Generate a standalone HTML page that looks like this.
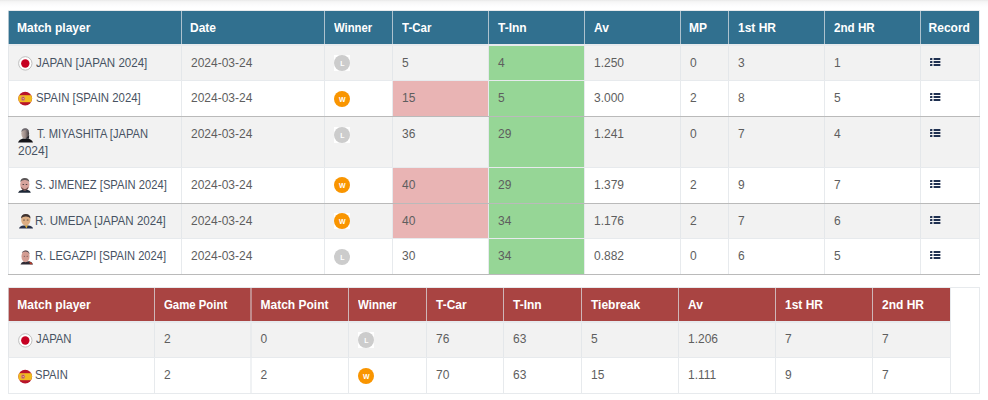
<!DOCTYPE html>
<html><head><meta charset="utf-8"><style>
html,body{margin:0;padding:0;background:#fff;width:988px;height:400px;overflow:hidden;position:relative}
body{font-family:"Liberation Sans",sans-serif;}
.shadow{position:absolute;left:0;top:0;width:988px;height:8px;background:linear-gradient(#e8e8e8,#f3f3f3 15%,#f8f8f8 35%,#fcfcfd 65%,#fff)}
.r{position:absolute}
.t,.tn,.th{position:absolute;font-size:12px;line-height:14px;white-space:nowrap;color:#5e5e5e}
.tn{color:#475262}
.th{color:#fff;font-weight:bold}
.ic{position:absolute;display:block}
.bg,.bw{position:absolute;width:16px;height:16px;background:#fff}
.bc{width:16px;height:16px;border-radius:50%;color:#fff;font-weight:bold;font-size:7px;line-height:18px;text-align:center}
</style></head><body>
<div class="shadow"></div>
<div class="r" style="left:8px;top:11px;width:971px;height:33px;background:#31708f;"></div>
<div class="r" style="left:8px;top:46px;width:971px;height:34px;background:#f2f2f2;"></div>
<div class="r" style="left:8px;top:81px;width:971px;height:35px;background:#ffffff;"></div>
<div class="r" style="left:8px;top:117px;width:971px;height:50px;background:#f2f2f2;"></div>
<div class="r" style="left:8px;top:168px;width:971px;height:35px;background:#ffffff;"></div>
<div class="r" style="left:8px;top:204px;width:971px;height:34px;background:#f2f2f2;"></div>
<div class="r" style="left:8px;top:239px;width:971px;height:35px;background:#ffffff;"></div>
<div class="r" style="left:489px;top:46px;width:95px;height:34px;background:#96d696;"></div>
<div class="r" style="left:393px;top:81px;width:95px;height:35px;background:#e9b4b4;"></div>
<div class="r" style="left:489px;top:81px;width:95px;height:35px;background:#96d696;"></div>
<div class="r" style="left:489px;top:117px;width:95px;height:50px;background:#96d696;"></div>
<div class="r" style="left:393px;top:168px;width:95px;height:35px;background:#e9b4b4;"></div>
<div class="r" style="left:489px;top:168px;width:95px;height:35px;background:#96d696;"></div>
<div class="r" style="left:393px;top:204px;width:95px;height:34px;background:#e9b4b4;"></div>
<div class="r" style="left:489px;top:204px;width:95px;height:34px;background:#96d696;"></div>
<div class="r" style="left:489px;top:239px;width:95px;height:35px;background:#96d696;"></div>
<div class="r" style="left:8px;top:10px;width:972px;height:1px;background:rgba(222,226,230,0.72);"></div>
<div class="r" style="left:8px;top:44px;width:972px;height:2px;background:rgba(222,226,230,0.72);"></div>
<div class="r" style="left:8px;top:80px;width:972px;height:1px;background:rgba(222,226,230,0.72);"></div>
<div class="r" style="left:8px;top:116px;width:972px;height:1px;background:rgba(160,160,160,0.72);"></div>
<div class="r" style="left:8px;top:167px;width:972px;height:1px;background:rgba(222,226,230,0.72);"></div>
<div class="r" style="left:8px;top:203px;width:972px;height:1px;background:rgba(160,160,160,0.72);"></div>
<div class="r" style="left:8px;top:238px;width:972px;height:1px;background:rgba(222,226,230,0.72);"></div>
<div class="r" style="left:8px;top:274px;width:972px;height:1px;background:rgba(160,160,160,0.72);"></div>
<div class="r" style="left:8px;top:11px;width:1px;height:33px;background:rgba(222,226,230,0.72);"></div>
<div class="r" style="left:8px;top:46px;width:1px;height:34px;background:rgba(222,226,230,0.72);"></div>
<div class="r" style="left:8px;top:81px;width:1px;height:35px;background:rgba(222,226,230,0.72);"></div>
<div class="r" style="left:8px;top:117px;width:1px;height:50px;background:rgba(222,226,230,0.72);"></div>
<div class="r" style="left:8px;top:168px;width:1px;height:35px;background:rgba(222,226,230,0.72);"></div>
<div class="r" style="left:8px;top:204px;width:1px;height:34px;background:rgba(222,226,230,0.72);"></div>
<div class="r" style="left:8px;top:239px;width:1px;height:35px;background:rgba(222,226,230,0.72);"></div>
<div class="r" style="left:181px;top:11px;width:1px;height:33px;background:rgba(222,226,230,0.72);"></div>
<div class="r" style="left:181px;top:46px;width:1px;height:34px;background:rgba(222,226,230,0.72);"></div>
<div class="r" style="left:181px;top:81px;width:1px;height:35px;background:rgba(222,226,230,0.72);"></div>
<div class="r" style="left:181px;top:117px;width:1px;height:50px;background:rgba(222,226,230,0.72);"></div>
<div class="r" style="left:181px;top:168px;width:1px;height:35px;background:rgba(222,226,230,0.72);"></div>
<div class="r" style="left:181px;top:204px;width:1px;height:34px;background:rgba(222,226,230,0.72);"></div>
<div class="r" style="left:181px;top:239px;width:1px;height:35px;background:rgba(222,226,230,0.72);"></div>
<div class="r" style="left:324px;top:11px;width:1px;height:33px;background:rgba(222,226,230,0.72);"></div>
<div class="r" style="left:324px;top:46px;width:1px;height:34px;background:rgba(222,226,230,0.72);"></div>
<div class="r" style="left:324px;top:81px;width:1px;height:35px;background:rgba(222,226,230,0.72);"></div>
<div class="r" style="left:324px;top:117px;width:1px;height:50px;background:rgba(222,226,230,0.72);"></div>
<div class="r" style="left:324px;top:168px;width:1px;height:35px;background:rgba(222,226,230,0.72);"></div>
<div class="r" style="left:324px;top:204px;width:1px;height:34px;background:rgba(222,226,230,0.72);"></div>
<div class="r" style="left:324px;top:239px;width:1px;height:35px;background:rgba(222,226,230,0.72);"></div>
<div class="r" style="left:392px;top:11px;width:1px;height:33px;background:rgba(222,226,230,0.72);"></div>
<div class="r" style="left:392px;top:46px;width:1px;height:34px;background:rgba(222,226,230,0.72);"></div>
<div class="r" style="left:392px;top:81px;width:1px;height:35px;background:rgba(222,226,230,0.72);"></div>
<div class="r" style="left:392px;top:117px;width:1px;height:50px;background:rgba(222,226,230,0.72);"></div>
<div class="r" style="left:392px;top:168px;width:1px;height:35px;background:rgba(222,226,230,0.72);"></div>
<div class="r" style="left:392px;top:204px;width:1px;height:34px;background:rgba(222,226,230,0.72);"></div>
<div class="r" style="left:392px;top:239px;width:1px;height:35px;background:rgba(222,226,230,0.72);"></div>
<div class="r" style="left:488px;top:11px;width:1px;height:33px;background:rgba(222,226,230,0.72);"></div>
<div class="r" style="left:488px;top:46px;width:1px;height:34px;background:rgba(222,226,230,0.72);"></div>
<div class="r" style="left:488px;top:81px;width:1px;height:35px;background:rgba(222,226,230,0.72);"></div>
<div class="r" style="left:488px;top:117px;width:1px;height:50px;background:rgba(222,226,230,0.72);"></div>
<div class="r" style="left:488px;top:168px;width:1px;height:35px;background:rgba(222,226,230,0.72);"></div>
<div class="r" style="left:488px;top:204px;width:1px;height:34px;background:rgba(222,226,230,0.72);"></div>
<div class="r" style="left:488px;top:239px;width:1px;height:35px;background:rgba(222,226,230,0.72);"></div>
<div class="r" style="left:584px;top:11px;width:1px;height:33px;background:rgba(222,226,230,0.72);"></div>
<div class="r" style="left:584px;top:46px;width:1px;height:34px;background:rgba(222,226,230,0.72);"></div>
<div class="r" style="left:584px;top:81px;width:1px;height:35px;background:rgba(222,226,230,0.72);"></div>
<div class="r" style="left:584px;top:117px;width:1px;height:50px;background:rgba(222,226,230,0.72);"></div>
<div class="r" style="left:584px;top:168px;width:1px;height:35px;background:rgba(222,226,230,0.72);"></div>
<div class="r" style="left:584px;top:204px;width:1px;height:34px;background:rgba(222,226,230,0.72);"></div>
<div class="r" style="left:584px;top:239px;width:1px;height:35px;background:rgba(222,226,230,0.72);"></div>
<div class="r" style="left:680px;top:11px;width:1px;height:33px;background:rgba(222,226,230,0.72);"></div>
<div class="r" style="left:680px;top:46px;width:1px;height:34px;background:rgba(222,226,230,0.72);"></div>
<div class="r" style="left:680px;top:81px;width:1px;height:35px;background:rgba(222,226,230,0.72);"></div>
<div class="r" style="left:680px;top:117px;width:1px;height:50px;background:rgba(222,226,230,0.72);"></div>
<div class="r" style="left:680px;top:168px;width:1px;height:35px;background:rgba(222,226,230,0.72);"></div>
<div class="r" style="left:680px;top:204px;width:1px;height:34px;background:rgba(222,226,230,0.72);"></div>
<div class="r" style="left:680px;top:239px;width:1px;height:35px;background:rgba(222,226,230,0.72);"></div>
<div class="r" style="left:728px;top:11px;width:1px;height:33px;background:rgba(222,226,230,0.72);"></div>
<div class="r" style="left:728px;top:46px;width:1px;height:34px;background:rgba(222,226,230,0.72);"></div>
<div class="r" style="left:728px;top:81px;width:1px;height:35px;background:rgba(222,226,230,0.72);"></div>
<div class="r" style="left:728px;top:117px;width:1px;height:50px;background:rgba(222,226,230,0.72);"></div>
<div class="r" style="left:728px;top:168px;width:1px;height:35px;background:rgba(222,226,230,0.72);"></div>
<div class="r" style="left:728px;top:204px;width:1px;height:34px;background:rgba(222,226,230,0.72);"></div>
<div class="r" style="left:728px;top:239px;width:1px;height:35px;background:rgba(222,226,230,0.72);"></div>
<div class="r" style="left:824px;top:11px;width:1px;height:33px;background:rgba(222,226,230,0.72);"></div>
<div class="r" style="left:824px;top:46px;width:1px;height:34px;background:rgba(222,226,230,0.72);"></div>
<div class="r" style="left:824px;top:81px;width:1px;height:35px;background:rgba(222,226,230,0.72);"></div>
<div class="r" style="left:824px;top:117px;width:1px;height:50px;background:rgba(222,226,230,0.72);"></div>
<div class="r" style="left:824px;top:168px;width:1px;height:35px;background:rgba(222,226,230,0.72);"></div>
<div class="r" style="left:824px;top:204px;width:1px;height:34px;background:rgba(222,226,230,0.72);"></div>
<div class="r" style="left:824px;top:239px;width:1px;height:35px;background:rgba(222,226,230,0.72);"></div>
<div class="r" style="left:920px;top:11px;width:1px;height:33px;background:rgba(222,226,230,0.72);"></div>
<div class="r" style="left:920px;top:46px;width:1px;height:34px;background:rgba(222,226,230,0.72);"></div>
<div class="r" style="left:920px;top:81px;width:1px;height:35px;background:rgba(222,226,230,0.72);"></div>
<div class="r" style="left:920px;top:117px;width:1px;height:50px;background:rgba(222,226,230,0.72);"></div>
<div class="r" style="left:920px;top:168px;width:1px;height:35px;background:rgba(222,226,230,0.72);"></div>
<div class="r" style="left:920px;top:204px;width:1px;height:34px;background:rgba(222,226,230,0.72);"></div>
<div class="r" style="left:920px;top:239px;width:1px;height:35px;background:rgba(222,226,230,0.72);"></div>
<div class="r" style="left:979px;top:11px;width:1px;height:33px;background:rgba(222,226,230,0.72);"></div>
<div class="r" style="left:979px;top:46px;width:1px;height:34px;background:rgba(222,226,230,0.72);"></div>
<div class="r" style="left:979px;top:81px;width:1px;height:35px;background:rgba(222,226,230,0.72);"></div>
<div class="r" style="left:979px;top:117px;width:1px;height:50px;background:rgba(222,226,230,0.72);"></div>
<div class="r" style="left:979px;top:168px;width:1px;height:35px;background:rgba(222,226,230,0.72);"></div>
<div class="r" style="left:979px;top:204px;width:1px;height:34px;background:rgba(222,226,230,0.72);"></div>
<div class="r" style="left:979px;top:239px;width:1px;height:35px;background:rgba(222,226,230,0.72);"></div>
<div class="th" style="left:17px;top:20.5px;">Match player</div>
<div class="th" style="left:190px;top:20.5px;">Date</div>
<div class="th" style="left:334px;top:20.5px;transform:scaleX(0.94);transform-origin:0 0;">Winner</div>
<div class="th" style="left:402px;top:20.5px;transform:scaleX(0.96);transform-origin:0 0;">T-Car</div>
<div class="th" style="left:498px;top:20.5px;">T-Inn</div>
<div class="th" style="left:594px;top:20.5px;">Av</div>
<div class="th" style="left:689px;top:20.5px;">MP</div>
<div class="th" style="left:738px;top:20.5px;">1st HR</div>
<div class="th" style="left:834px;top:20.5px;transform:scaleX(0.97);transform-origin:0 0;">2nd HR</div>
<div class="th" style="left:928.6px;top:20.5px;">Record</div>
<svg class="ic" style="left:18px;top:56px" width="15" height="15" viewBox="0 0 15 15"><circle cx="7.3" cy="7.4" r="6.7" fill="#fff" stroke="#b9b9b9" stroke-width="0.9"/><circle cx="7.3" cy="7.5" r="4.2" fill="#c60022"/></svg>
<div class="tn" style="left:36.4px;top:55.5px;transform:scaleX(0.963);transform-origin:0 0;">JAPAN [JAPAN 2024]</div>
<div class="t" style="left:191px;top:55.5px;">2024-03-24</div>
<div class="bg" style="left:334.4px;top:55px;"><div class="bc" style="background:#cccccc">L</div></div>
<div class="t" style="left:402px;top:55.5px;">5</div>
<div class="t" style="left:498px;top:55.5px;">4</div>
<div class="t" style="left:594px;top:55.5px;">1.250</div>
<div class="t" style="left:690px;top:55.5px;">0</div>
<div class="t" style="left:738px;top:55.5px;">3</div>
<div class="t" style="left:834px;top:55.5px;">1</div>
<svg class="ic" style="left:930px;top:58px" width="12" height="10" viewBox="0 0 12 10"><g fill="#1f3050"><rect x="0" y="0" width="2.4" height="2" rx="0.6"/><rect x="0" y="3" width="2.4" height="2" rx="0.6"/><rect x="0" y="6" width="2.4" height="2" rx="0.6"/><rect x="3.6" y="0" width="6.8" height="2" rx="0.6"/><rect x="3.6" y="3" width="6.8" height="2" rx="0.6"/><rect x="3.6" y="6" width="6.8" height="2" rx="0.6"/></g></svg>
<svg class="ic" style="left:18px;top:91px" width="15" height="15" viewBox="0 0 15 15"><defs><clipPath id="c1891"><circle cx="7.2" cy="7.6" r="6.9"/></clipPath></defs><g clip-path="url(#c1891)"><rect x="0" y="0" width="15" height="15" fill="#b8142a"/><rect x="0" y="4.2" width="15" height="7" fill="#f1bb1f"/><ellipse cx="5" cy="7.7" rx="2.2" ry="2.4" fill="#d58a6a"/><ellipse cx="5.1" cy="7.7" rx="1.3" ry="1.6" fill="#c04a44"/><rect x="4.6" y="7" width="1.1" height="1.3" fill="#d8cccc"/></g></svg>
<div class="tn" style="left:35.5px;top:90.5px;transform:scaleX(0.95);transform-origin:0 0;">SPAIN [SPAIN 2024]</div>
<div class="t" style="left:191px;top:90.5px;">2024-03-24</div>
<div class="bw" style="left:334.4px;top:91px;"><div class="bc" style="background:#f99500">W</div></div>
<div class="t" style="left:402px;top:90.5px;">15</div>
<div class="t" style="left:498px;top:90.5px;">5</div>
<div class="t" style="left:594px;top:90.5px;">3.000</div>
<div class="t" style="left:690px;top:90.5px;">2</div>
<div class="t" style="left:738px;top:90.5px;">8</div>
<div class="t" style="left:834px;top:90.5px;">5</div>
<svg class="ic" style="left:930px;top:93px" width="12" height="10" viewBox="0 0 12 10"><g fill="#1f3050"><rect x="0" y="0" width="2.4" height="2" rx="0.6"/><rect x="0" y="3" width="2.4" height="2" rx="0.6"/><rect x="0" y="6" width="2.4" height="2" rx="0.6"/><rect x="3.6" y="0" width="6.8" height="2" rx="0.6"/><rect x="3.6" y="3" width="6.8" height="2" rx="0.6"/><rect x="3.6" y="6" width="6.8" height="2" rx="0.6"/></g></svg>
<svg class="ic" style="left:16px;top:126px" width="20" height="20" viewBox="0 0 20 20"><defs><linearGradient id="g1" x1="0" x2="1" y1="0" y2="0"><stop offset="0" stop-color="#c4b4ac"/><stop offset="0.5" stop-color="#9c8c88"/><stop offset="1" stop-color="#3c383c"/></linearGradient></defs><path d="M2 16.6 Q3 13.6 7 12.6 L11.5 12.6 Q16 13.4 17 16.6 Z" fill="#141418"/><ellipse cx="9.2" cy="7.6" rx="3.9" ry="5" fill="url(#g1)"/><path d="M5.4 6 Q5.6 2.4 9.2 2.3 Q12.8 2.4 13 6 Q11.5 4 9.2 4.1 Q7 4 5.4 6Z" fill="#6e6a70"/><path d="M9.5 12.8 L13.2 9 L13 12.8Z" fill="#2a2a30"/></svg>
<div class="tn" style="left:36.5px;top:126.5px;transform:scaleX(0.931);transform-origin:0 0;">T. MIYASHITA [JAPAN</div>
<div class="tn" style="left:18px;top:143.5px;">2024]</div>
<div class="t" style="left:191px;top:126.5px;">2024-03-24</div>
<div class="bg" style="left:334.4px;top:127px;"><div class="bc" style="background:#cccccc">L</div></div>
<div class="t" style="left:402px;top:126.5px;">36</div>
<div class="t" style="left:498px;top:126.5px;">29</div>
<div class="t" style="left:594px;top:126.5px;">1.241</div>
<div class="t" style="left:690px;top:126.5px;">0</div>
<div class="t" style="left:738px;top:126.5px;">7</div>
<div class="t" style="left:834px;top:126.5px;">4</div>
<svg class="ic" style="left:930px;top:129px" width="12" height="10" viewBox="0 0 12 10"><g fill="#1f3050"><rect x="0" y="0" width="2.4" height="2" rx="0.6"/><rect x="0" y="3" width="2.4" height="2" rx="0.6"/><rect x="0" y="6" width="2.4" height="2" rx="0.6"/><rect x="3.6" y="0" width="6.8" height="2" rx="0.6"/><rect x="3.6" y="3" width="6.8" height="2" rx="0.6"/><rect x="3.6" y="6" width="6.8" height="2" rx="0.6"/></g></svg>
<svg class="ic" style="left:16px;top:176px" width="20" height="20" viewBox="0 0 20 20"><path d="M2 16.8 Q3 14.2 6 14 L12 14 Q14.5 14.4 14.8 16.8 Z" fill="#1d2736"/><ellipse cx="8.8" cy="8.6" rx="4.6" ry="6" fill="#d7a39c"/><path d="M4.3 6 Q4.6 2.2 8.8 2.1 Q13 2.2 13.3 6 Q11.8 3.8 8.8 3.9 Q5.8 3.8 4.3 6Z" fill="#5a5556"/><path d="M5.2 10.8 Q8.8 15.6 12.4 10.8 Q12 14.6 8.8 14.7 Q5.6 14.6 5.2 10.8Z" fill="#6b4a48"/><ellipse cx="7.3" cy="8.6" rx="0.9" ry="0.5" fill="#4a3b3e"/><ellipse cx="10.5" cy="8.6" rx="0.9" ry="0.5" fill="#4a3b3e"/></svg>
<div class="tn" style="left:35.3px;top:177.5px;transform:scaleX(0.934);transform-origin:0 0;">S. JIMENEZ [SPAIN 2024]</div>
<div class="t" style="left:191px;top:177.5px;">2024-03-24</div>
<div class="bw" style="left:334.4px;top:177px;"><div class="bc" style="background:#f99500">W</div></div>
<div class="t" style="left:402px;top:177.5px;">40</div>
<div class="t" style="left:498px;top:177.5px;">29</div>
<div class="t" style="left:594px;top:177.5px;">1.379</div>
<div class="t" style="left:690px;top:177.5px;">2</div>
<div class="t" style="left:738px;top:177.5px;">9</div>
<div class="t" style="left:834px;top:177.5px;">7</div>
<svg class="ic" style="left:930px;top:180px" width="12" height="10" viewBox="0 0 12 10"><g fill="#1f3050"><rect x="0" y="0" width="2.4" height="2" rx="0.6"/><rect x="0" y="3" width="2.4" height="2" rx="0.6"/><rect x="0" y="6" width="2.4" height="2" rx="0.6"/><rect x="3.6" y="0" width="6.8" height="2" rx="0.6"/><rect x="3.6" y="3" width="6.8" height="2" rx="0.6"/><rect x="3.6" y="6" width="6.8" height="2" rx="0.6"/></g></svg>
<svg class="ic" style="left:16px;top:211px" width="20" height="20" viewBox="0 0 20 20"><path d="M3 17.6 Q3.8 15 7.5 14.6 L12 14.6 Q16.5 15 17 17.6 Z" fill="#26304a"/><path d="M8.8 14.6 L10.4 17.6 L11.8 14.6Z" fill="#e0b030"/><ellipse cx="9.8" cy="9" rx="4.6" ry="5.6" fill="#dcae84"/><path d="M5.1 7.6 Q5 3 9.8 3 Q14.6 3 14.5 7.6 Q13 5.4 9.8 5.5 Q6.6 5.4 5.1 7.6Z" fill="#3e3230"/><ellipse cx="8" cy="9" rx="1" ry="0.6" fill="#5a4a40"/><ellipse cx="11.6" cy="9" rx="1" ry="0.6" fill="#5a4a40"/></svg>
<div class="tn" style="left:35.3px;top:213.5px;transform:scaleX(0.963);transform-origin:0 0;">R. UMEDA [JAPAN 2024]</div>
<div class="t" style="left:191px;top:213.5px;">2024-03-24</div>
<div class="bw" style="left:334.4px;top:213px;"><div class="bc" style="background:#f99500">W</div></div>
<div class="t" style="left:402px;top:213.5px;">40</div>
<div class="t" style="left:498px;top:213.5px;">34</div>
<div class="t" style="left:594px;top:213.5px;">1.176</div>
<div class="t" style="left:690px;top:213.5px;">2</div>
<div class="t" style="left:738px;top:213.5px;">7</div>
<div class="t" style="left:834px;top:213.5px;">6</div>
<svg class="ic" style="left:930px;top:216px" width="12" height="10" viewBox="0 0 12 10"><g fill="#1f3050"><rect x="0" y="0" width="2.4" height="2" rx="0.6"/><rect x="0" y="3" width="2.4" height="2" rx="0.6"/><rect x="0" y="6" width="2.4" height="2" rx="0.6"/><rect x="3.6" y="0" width="6.8" height="2" rx="0.6"/><rect x="3.6" y="3" width="6.8" height="2" rx="0.6"/><rect x="3.6" y="6" width="6.8" height="2" rx="0.6"/></g></svg>
<svg class="ic" style="left:16px;top:247px" width="20" height="20" viewBox="0 0 20 20"><path d="M4.5 17.6 Q5.2 15 8 14.6 L13.5 14.2 Q16.5 14.8 17 17.6 Z" fill="#2e2a34"/><path d="M13 14.4 Q15.8 15 16.6 17.2 L14.2 17.2Z" fill="#b83a28"/><ellipse cx="9.5" cy="9.4" rx="4" ry="5.8" fill="#d39c92"/><path d="M5.8 6 Q6.5 3.3 9.8 3.4 Q13.2 3.5 13.6 7.5 Q12.5 4.8 9.8 4.6 Q7.4 4.6 5.8 6Z" fill="#4e454c"/><ellipse cx="8.4" cy="9.2" rx="0.8" ry="0.45" fill="#6a5050"/><ellipse cx="11.2" cy="9.2" rx="0.8" ry="0.45" fill="#6a5050"/></svg>
<div class="tn" style="left:35.3px;top:248.5px;transform:scaleX(0.928);transform-origin:0 0;">R. LEGAZPI [SPAIN 2024]</div>
<div class="t" style="left:191px;top:248.5px;">2024-03-24</div>
<div class="bg" style="left:334.4px;top:249px;"><div class="bc" style="background:#cccccc">L</div></div>
<div class="t" style="left:402px;top:248.5px;">30</div>
<div class="t" style="left:498px;top:248.5px;">34</div>
<div class="t" style="left:594px;top:248.5px;">0.882</div>
<div class="t" style="left:690px;top:248.5px;">0</div>
<div class="t" style="left:738px;top:248.5px;">6</div>
<div class="t" style="left:834px;top:248.5px;">5</div>
<svg class="ic" style="left:930px;top:251px" width="12" height="10" viewBox="0 0 12 10"><g fill="#1f3050"><rect x="0" y="0" width="2.4" height="2" rx="0.6"/><rect x="0" y="3" width="2.4" height="2" rx="0.6"/><rect x="0" y="6" width="2.4" height="2" rx="0.6"/><rect x="3.6" y="0" width="6.8" height="2" rx="0.6"/><rect x="3.6" y="3" width="6.8" height="2" rx="0.6"/><rect x="3.6" y="6" width="6.8" height="2" rx="0.6"/></g></svg>
<div class="r" style="left:8px;top:288px;width:942px;height:33px;background:#a94442;"></div>
<div class="r" style="left:8px;top:323px;width:942px;height:34px;background:#f2f2f2;"></div>
<div class="r" style="left:8px;top:358px;width:942px;height:35px;background:#ffffff;"></div>
<div class="r" style="left:8px;top:287px;width:972px;height:1px;background:rgba(222,226,230,0.72);"></div>
<div class="r" style="left:979px;top:288px;width:1px;height:105px;background:rgba(222,226,230,0.72);"></div>
<div class="r" style="left:8px;top:393px;width:972px;height:1px;background:rgba(222,226,230,0.72);"></div>
<div class="r" style="left:8px;top:321px;width:943px;height:2px;background:rgba(222,226,230,0.72);"></div>
<div class="r" style="left:8px;top:357px;width:943px;height:1px;background:rgba(222,226,230,0.72);"></div>
<div class="r" style="left:8px;top:288px;width:1px;height:33px;background:rgba(222,226,230,0.72);"></div>
<div class="r" style="left:8px;top:323px;width:1px;height:34px;background:rgba(222,226,230,0.72);"></div>
<div class="r" style="left:8px;top:358px;width:1px;height:35px;background:rgba(222,226,230,0.72);"></div>
<div class="r" style="left:154px;top:288px;width:1px;height:33px;background:rgba(222,226,230,0.72);"></div>
<div class="r" style="left:154px;top:323px;width:1px;height:34px;background:rgba(222,226,230,0.72);"></div>
<div class="r" style="left:154px;top:358px;width:1px;height:35px;background:rgba(222,226,230,0.72);"></div>
<div class="r" style="left:250px;top:288px;width:1px;height:33px;background:rgba(222,226,230,0.45);"></div>
<div class="r" style="left:250px;top:323px;width:1px;height:34px;background:rgba(222,226,230,0.45);"></div>
<div class="r" style="left:250px;top:358px;width:1px;height:35px;background:rgba(222,226,230,0.45);"></div>
<div class="r" style="left:251px;top:288px;width:1px;height:33px;background:rgba(222,226,230,0.45);"></div>
<div class="r" style="left:251px;top:323px;width:1px;height:34px;background:rgba(222,226,230,0.45);"></div>
<div class="r" style="left:251px;top:358px;width:1px;height:35px;background:rgba(222,226,230,0.45);"></div>
<div class="r" style="left:348px;top:288px;width:1px;height:33px;background:rgba(222,226,230,0.72);"></div>
<div class="r" style="left:348px;top:323px;width:1px;height:34px;background:rgba(222,226,230,0.72);"></div>
<div class="r" style="left:348px;top:358px;width:1px;height:35px;background:rgba(222,226,230,0.72);"></div>
<div class="r" style="left:426px;top:288px;width:1px;height:33px;background:rgba(222,226,230,0.72);"></div>
<div class="r" style="left:426px;top:323px;width:1px;height:34px;background:rgba(222,226,230,0.72);"></div>
<div class="r" style="left:426px;top:358px;width:1px;height:35px;background:rgba(222,226,230,0.72);"></div>
<div class="r" style="left:503px;top:288px;width:1px;height:33px;background:rgba(222,226,230,0.72);"></div>
<div class="r" style="left:503px;top:323px;width:1px;height:34px;background:rgba(222,226,230,0.72);"></div>
<div class="r" style="left:503px;top:358px;width:1px;height:35px;background:rgba(222,226,230,0.72);"></div>
<div class="r" style="left:581px;top:288px;width:1px;height:33px;background:rgba(222,226,230,0.72);"></div>
<div class="r" style="left:581px;top:323px;width:1px;height:34px;background:rgba(222,226,230,0.72);"></div>
<div class="r" style="left:581px;top:358px;width:1px;height:35px;background:rgba(222,226,230,0.72);"></div>
<div class="r" style="left:678px;top:288px;width:1px;height:33px;background:rgba(222,226,230,0.72);"></div>
<div class="r" style="left:678px;top:323px;width:1px;height:34px;background:rgba(222,226,230,0.72);"></div>
<div class="r" style="left:678px;top:358px;width:1px;height:35px;background:rgba(222,226,230,0.72);"></div>
<div class="r" style="left:775px;top:288px;width:1px;height:33px;background:rgba(222,226,230,0.72);"></div>
<div class="r" style="left:775px;top:323px;width:1px;height:34px;background:rgba(222,226,230,0.72);"></div>
<div class="r" style="left:775px;top:358px;width:1px;height:35px;background:rgba(222,226,230,0.72);"></div>
<div class="r" style="left:872px;top:288px;width:1px;height:33px;background:rgba(222,226,230,0.72);"></div>
<div class="r" style="left:872px;top:323px;width:1px;height:34px;background:rgba(222,226,230,0.72);"></div>
<div class="r" style="left:872px;top:358px;width:1px;height:35px;background:rgba(222,226,230,0.72);"></div>
<div class="r" style="left:950px;top:288px;width:1px;height:33px;background:rgba(222,226,230,0.72);"></div>
<div class="r" style="left:950px;top:323px;width:1px;height:34px;background:rgba(222,226,230,0.72);"></div>
<div class="r" style="left:950px;top:358px;width:1px;height:35px;background:rgba(222,226,230,0.72);"></div>
<div class="th" style="left:17.3px;top:297.7px;">Match player</div>
<div class="th" style="left:164px;top:297.7px;transform:scaleX(0.948);transform-origin:0 0;">Game Point</div>
<div class="th" style="left:260.5px;top:297.7px;">Match Point</div>
<div class="th" style="left:358px;top:297.7px;transform:scaleX(0.957);transform-origin:0 0;">Winner</div>
<div class="th" style="left:436px;top:297.7px;">T-Car</div>
<div class="th" style="left:513px;top:297.7px;">T-Inn</div>
<div class="th" style="left:591px;top:297.7px;">Tiebreak</div>
<div class="th" style="left:688px;top:297.7px;">Av</div>
<div class="th" style="left:785px;top:297.7px;">1st HR</div>
<div class="th" style="left:882px;top:297.7px;">2nd HR</div>
<svg class="ic" style="left:18px;top:333px" width="15" height="15" viewBox="0 0 15 15"><circle cx="7.3" cy="7.4" r="6.7" fill="#fff" stroke="#b9b9b9" stroke-width="0.9"/><circle cx="7.3" cy="7.5" r="4.2" fill="#c60022"/></svg>
<div class="tn" style="left:36.3px;top:332px;transform:scaleX(0.94);transform-origin:0 0;">JAPAN</div>
<div class="t" style="left:164px;top:332px;">2</div>
<div class="t" style="left:260.5px;top:332px;">0</div>
<div class="bg" style="left:358.4px;top:332.1px;"><div class="bc" style="background:#cccccc">L</div></div>
<div class="t" style="left:436px;top:332px;">76</div>
<div class="t" style="left:513px;top:332px;">63</div>
<div class="t" style="left:591px;top:332px;">5</div>
<div class="t" style="left:688px;top:332px;">1.206</div>
<div class="t" style="left:785px;top:332px;">7</div>
<div class="t" style="left:882px;top:332px;">7</div>
<svg class="ic" style="left:18px;top:369px" width="15" height="15" viewBox="0 0 15 15"><defs><clipPath id="c18369"><circle cx="7.2" cy="7.6" r="6.9"/></clipPath></defs><g clip-path="url(#c18369)"><rect x="0" y="0" width="15" height="15" fill="#b8142a"/><rect x="0" y="4.2" width="15" height="7" fill="#f1bb1f"/><ellipse cx="5" cy="7.7" rx="2.2" ry="2.4" fill="#d58a6a"/><ellipse cx="5.1" cy="7.7" rx="1.3" ry="1.6" fill="#c04a44"/><rect x="4.6" y="7" width="1.1" height="1.3" fill="#d8cccc"/></g></svg>
<div class="tn" style="left:35.3px;top:368px;transform:scaleX(0.933);transform-origin:0 0;">SPAIN</div>
<div class="t" style="left:164px;top:368px;">2</div>
<div class="t" style="left:260.5px;top:368px;">2</div>
<div class="bw" style="left:358.4px;top:368.4px;"><div class="bc" style="background:#f99500">W</div></div>
<div class="t" style="left:436px;top:368px;">70</div>
<div class="t" style="left:513px;top:368px;">63</div>
<div class="t" style="left:591px;top:368px;">15</div>
<div class="t" style="left:688px;top:368px;">1.111</div>
<div class="t" style="left:785px;top:368px;">9</div>
<div class="t" style="left:882px;top:368px;">7</div>
</body></html>
